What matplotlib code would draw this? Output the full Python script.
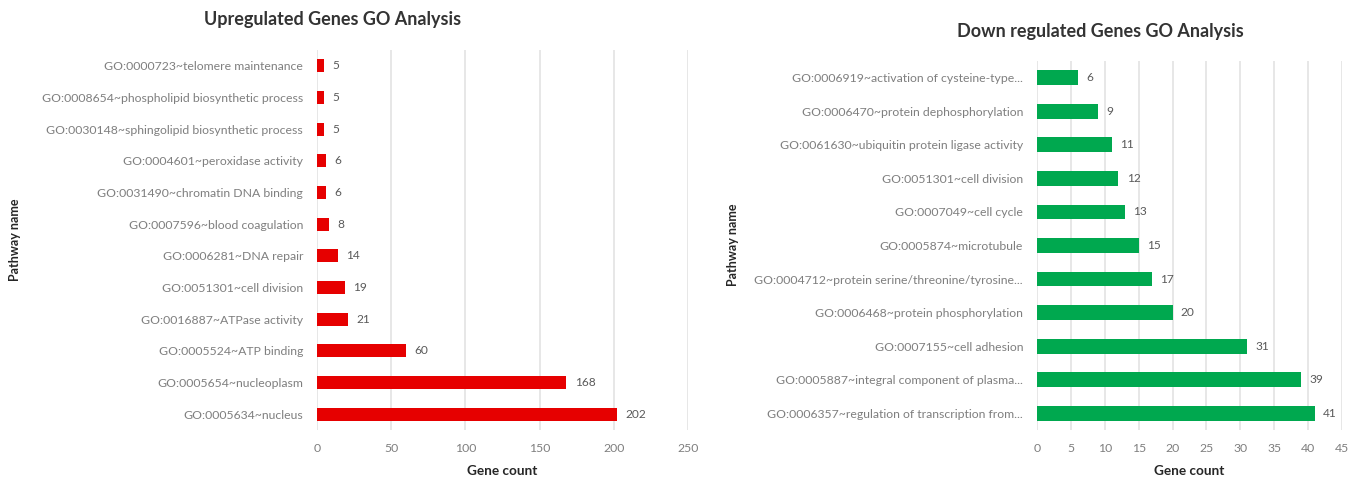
import matplotlib
matplotlib.use("Agg")
import matplotlib.pyplot as plt

plt.rcParams['font.family'] = ['Lato', 'DejaVu Sans']

# Upregulated genes (top to bottom)
up_terms = [
    "GO:0000723~telomere maintenance",
    "GO:0008654~phospholipid biosynthetic process",
    "GO:0030148~sphingolipid biosynthetic process",
    "GO:0004601~peroxidase activity",
    "GO:0031490~chromatin DNA binding",
    "GO:0007596~blood coagulation",
    "GO:0006281~DNA repair",
    "GO:0051301~cell division",
    "GO:0016887~ATPase activity",
    "GO:0005524~ATP binding",
    "GO:0005654~nucleoplasm",
    "GO:0005634~nucleus",
]
up_counts = [5, 5, 5, 6, 6, 8, 14, 19, 21, 60, 168, 202]
up_ticks = [0, 50, 100, 150, 200, 250]

# Downregulated genes (top to bottom)
down_terms = [
    "GO:0006919~activation of cysteine-type...",
    "GO:0006470~protein dephosphorylation",
    "GO:0061630~ubiquitin protein ligase activity",
    "GO:0051301~cell division",
    "GO:0007049~cell cycle",
    "GO:0005874~microtubule",
    "GO:0004712~protein serine/threonine/tyrosine...",
    "GO:0006468~protein phosphorylation",
    "GO:0007155~cell adhesion",
    "GO:0005887~integral component of plasma...",
    "GO:0006357~regulation of transcription from...",
]
down_counts = [6, 9, 11, 12, 13, 15, 17, 20, 31, 39, 41]
down_ticks = [0, 5, 10, 15, 20, 25, 30, 35, 40, 45]

W, H = 1360, 482
fig = plt.figure(figsize=(W / 100, H / 100), dpi=100)

GRAY = "#7F7F7F"
GRID = "#E3E3E3"


def px_axes(x0, x1, ytop, ybot):
    return fig.add_axes([x0 / W, (H - ybot) / H, (x1 - x0) / W, (ybot - ytop) / H])


def draw(ax, terms, counts, ticks, color, bar_h, off_px):
    n = len(terms)
    ypos = list(range(n - 1, -1, -1))
    ax.barh(ypos, counts, height=bar_h, color=color, zorder=3)
    ax.set_ylim(-0.5, n - 0.5)
    ax.set_xlim(ticks[0], ticks[-1])
    ax.set_xticks(ticks)
    ax.set_yticks(ypos)
    ax.set_yticklabels(terms)
    for s in ax.spines.values():
        s.set_visible(False)
    ax.grid(axis='x', color=GRID, linewidth=1.2, zorder=0)
    ax.tick_params(axis='both', length=0, colors=GRAY, labelsize=8.8)
    ax.tick_params(axis='y', pad=10)
    ax.tick_params(axis='x', pad=9)
    for y, v in zip(ypos, counts):
        ax.annotate(str(v), (v, y), xytext=(off_px, 0), textcoords='offset points',
                    va='center', ha='left', color="#595959", fontsize=8.6)
    ax.set_xlabel("Gene count", fontsize=9.8, fontweight='bold', color="#262626",
                  labelpad=8)


ax1 = px_axes(317, 688, 50, 430)
draw(ax1, up_terms, up_counts, up_ticks, "#E60000", 0.42, 6)
ax2 = px_axes(1037, 1342, 61, 430)
draw(ax2, down_terms, down_counts, down_ticks, "#00A84F", 0.44, 6)

fig.text(15 / W, 1 - 240 / H, "Pathway name", rotation=90, ha='center', va='center',
         fontsize=9, fontweight='bold', color="#262626")
fig.text(733 / W, 1 - 245 / H, "Pathway name", rotation=90, ha='center', va='center',
         fontsize=9, fontweight='bold', color="#262626")

fig.text(333 / W, 1 - 20 / H, "Upregulated Genes GO Analysis", ha='center', va='center',
         fontsize=13, fontweight='bold', color="#333333")
fig.text(1100 / W, 1 - 31 / H, "Down regulated Genes GO Analysis", ha='center', va='center',
         fontsize=13, fontweight='bold', color="#333333")

fig.savefig("out.png", dpi=100, facecolor="white")
